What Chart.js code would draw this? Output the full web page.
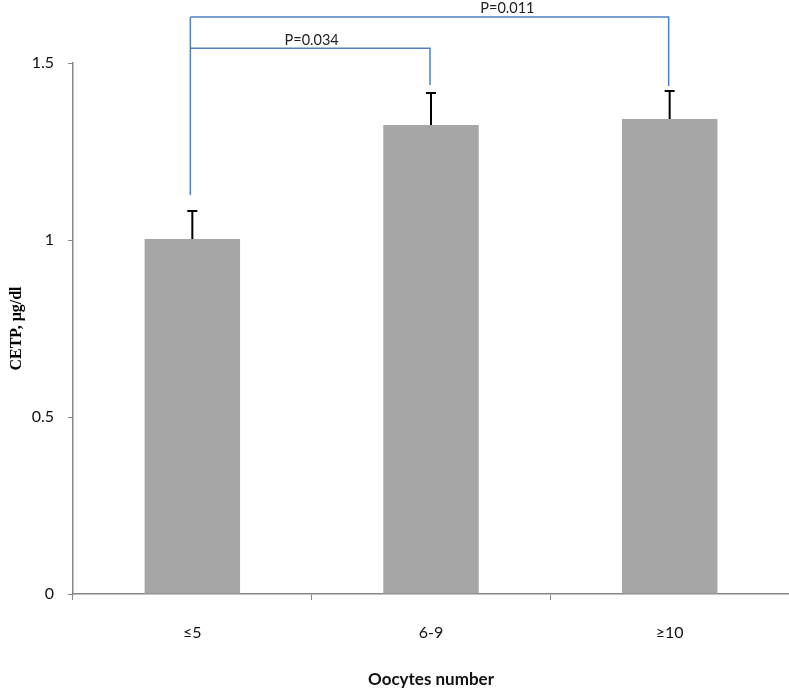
<!DOCTYPE html>
<html>
<head>
<meta charset="utf-8">
<script src="https://cdn.jsdelivr.net/npm/chart.js@4.4.0/dist/chart.umd.min.js"></script>
<style>
  body { margin: 0; background: #fff; }
  #wrap { width: 789px; height: 692px; }
</style>
</head>
<body>
<div id="wrap"><canvas id="mycanvas" width="789" height="692"></canvas></div>
<script>
// oocyte groups and CETP means (µg/dl) with upper error
var groups = ["\u22645", "6-9", "\u226510"];
var cetp = [1.003, 1.325, 1.342];
var cetpErr = [0.079, 0.09, 0.079];

// significance brackets: which groups, p text, level of the bar
var pairFrom = [0, 0];
var pairTo = [1, 2];
var pText = ["P=0.034", "P=0.011"];
var pLevel = [1.542, 1.63];
var pLeftFoot = 1.127;
var pRightFoot = [1.438, 1.435];

var axisGray = "#868686";

var errorBarsAndBrackets = {
  id: "errorBarsAndBrackets",
  afterDatasetsDraw: function(chart, args, opts) {
    var ctx = chart.ctx;
    var x = chart.scales.x, y = chart.scales.y;
    ctx.save();

    // error bars
    ctx.strokeStyle = "#000";
    ctx.lineWidth = 2;
    for (var i = 0; i < cetp.length; i++) {
      var cx = x.getPixelForValue(i);
      var y0 = y.getPixelForValue(cetp[i]);
      var y1 = y.getPixelForValue(cetp[i] + cetpErr[i]);
      ctx.beginPath();
      ctx.moveTo(cx, y0);
      ctx.lineTo(cx, y1);
      ctx.moveTo(cx - 5, y1);
      ctx.lineTo(cx + 5, y1);
      ctx.stroke();
    }

    // brackets
    ctx.strokeStyle = "#4F81BD";
    ctx.lineWidth = 1.5;
    ctx.fillStyle = "#222";
    ctx.font = "14.5px Lato, 'Open Sans', sans-serif";
    ctx.textAlign = "center";
    ctx.textBaseline = "bottom";
    var topMost = Math.max.apply(null, pLevel);
    var lx = x.getPixelForValue(pairFrom[0]) - 2;
    ctx.beginPath();
    ctx.moveTo(lx, y.getPixelForValue(pLeftFoot));
    ctx.lineTo(lx, y.getPixelForValue(topMost));
    ctx.stroke();
    for (var j = 0; j < pText.length; j++) {
      var ax = x.getPixelForValue(pairFrom[j]) - 2;
      var bx = x.getPixelForValue(pairTo[j]) - 1;
      var ly = y.getPixelForValue(pLevel[j]);
      ctx.beginPath();
      ctx.moveTo(ax, ly);
      ctx.lineTo(bx, ly);
      ctx.lineTo(bx, y.getPixelForValue(pRightFoot[j]));
      ctx.stroke();
      var tx = x.getPixelForValue(opts.labelAt[j]);
      ctx.fillText(pText[j], tx, ly - 1);
    }
    ctx.restore();
  }
};

var ctx = document.getElementById("mycanvas");
var chart = new Chart(ctx, {
  type: "bar",
  data: {
    labels: groups,
    datasets: [{
      label: "CETP",
      data: cetp,
      backgroundColor: "#A6A6A6",
      borderWidth: 0,
      categoryPercentage: 1,
      barPercentage: 0.4
    }]
  },
  options: {
    responsive: false,
    animation: false,
    layout: { padding: { top: 63, right: 0, left: 0, bottom: 0 } },
    plugins: {
      legend: { display: false },
      tooltip: { enabled: false },
      errorBarsAndBrackets: { labelAt: [0.5, 1.32] }
    },
    scales: {
      x: {
        afterFit: function(s) { s.height = 98; },
        border: { color: axisGray, width: 1.5 },
        grid: { display: true, drawOnChartArea: false, offset: true, color: axisGray, tickLength: 6 },
        ticks: { color: "#111", padding: 23, font: { family: "Lato", size: 16 } },
        title: {
          display: true,
          text: "Oocytes number",
          color: "#111",
          padding: { top: 0, bottom: 2 },
          font: { family: "Lato", size: 17, weight: "bold" }
        }
      },
      y: {
        min: 0,
        max: 1.5,
        afterFit: function(s) { s.width = 73; },
        border: { color: axisGray, width: 1.5 },
        grid: { display: true, drawOnChartArea: false, color: axisGray, tickLength: 5 },
        ticks: {
          stepSize: 0.5,
          color: "#111",
          padding: 14,
          font: { family: "Lato", size: 16 },
          callback: function(v) { return String(v); }
        },
        title: {
          display: true,
          text: "CETP, \u03bcg/dl",
          color: "#000",
          padding: { top: 7, bottom: 0 },
          font: { family: "'Liberation Serif', serif", size: 16, weight: "bold" }
        }
      }
    }
  },
  plugins: [errorBarsAndBrackets]
});
</script>
</body>
</html>
